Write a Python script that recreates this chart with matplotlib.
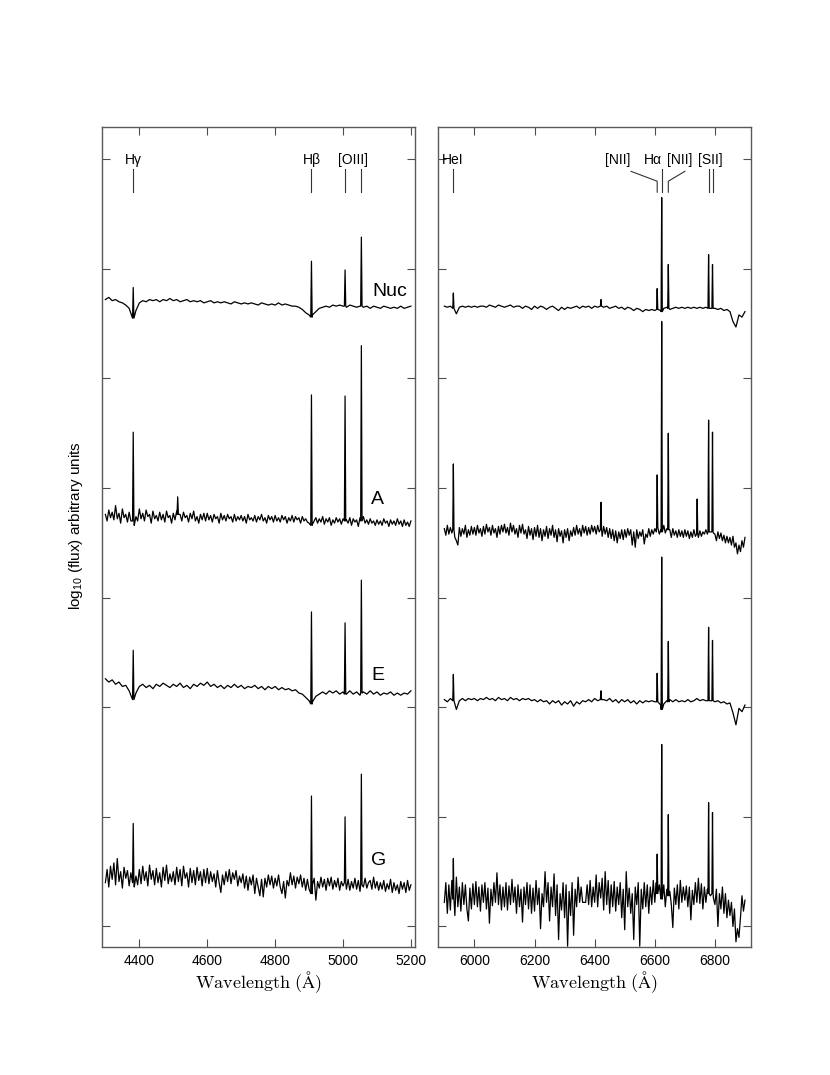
import numpy as np
import matplotlib.pyplot as plt

plt.rcParams['font.family'] = ['Liberation Sans', 'DejaVu Sans']
plt.rcParams['mathtext.fontset'] = 'custom'
plt.rcParams['mathtext.rm'] = 'Liberation Sans'
plt.rcParams['mathtext.it'] = 'Liberation Sans:italic'

# wavelength sampling of the two spectral windows (Angstrom)
blue_wave = np.arange(4300, 5201, 10)
red_wave = np.arange(5900, 6901, 10)
blue_wave_fine = np.arange(4300, 5201, 5)
red_wave_fine = np.arange(5900, 6901, 5)

# log10 flux (arbitrary units, offset per region)
nuc_blue = [5.72, 5.74, 5.71, 5.72, 5.70, 5.69, 5.67, 5.64, 5.60, 5.62,
            5.69, 5.71, 5.70, 5.72, 5.71, 5.72, 5.70, 5.72, 5.71, 5.73,
            5.71, 5.72, 5.70, 5.71, 5.72, 5.70, 5.71, 5.70, 5.71, 5.69,
            5.70, 5.71, 5.69, 5.70, 5.69, 5.70, 5.69, 5.68, 5.70, 5.69,
            5.68, 5.69, 5.68, 5.69, 5.68, 5.67, 5.69, 5.68, 5.67, 5.68,
            5.67, 5.69, 5.67, 5.68, 5.67, 5.66, 5.66, 5.65, 5.63, 5.60,
            5.58, 5.58, 5.61, 5.64, 5.65, 5.66, 5.65, 5.67, 5.66, 5.67,
            5.66, 5.65, 5.67, 5.66, 5.65, 5.66, 5.65, 5.66, 5.64, 5.66,
            5.65, 5.64, 5.66, 5.65, 5.64, 5.65, 5.64, 5.66, 5.64, 5.65, 5.66]
e_blue = [2.26, 2.23, 2.25, 2.21, 2.23, 2.19, 2.20, 2.15, 2.12, 2.13,
          2.19, 2.21, 2.18, 2.20, 2.17, 2.21, 2.19, 2.22, 2.20, 2.18,
          2.21, 2.19, 2.22, 2.18, 2.20, 2.17, 2.21, 2.19, 2.22, 2.20,
          2.23, 2.19, 2.21, 2.18, 2.20, 2.17, 2.20, 2.18, 2.21, 2.18,
          2.20, 2.17, 2.19, 2.18, 2.20, 2.17, 2.19, 2.16, 2.19, 2.17,
          2.19, 2.16, 2.18, 2.16, 2.17, 2.15, 2.16, 2.13, 2.12, 2.09,
          2.06, 2.05, 2.10, 2.12, 2.14, 2.12, 2.15, 2.13, 2.15, 2.12,
          2.14, 2.12, 2.15, 2.12, 2.14, 2.11, 2.14, 2.12, 2.15, 2.12,
          2.14, 2.11, 2.13, 2.12, 2.14, 2.11, 2.13, 2.11, 2.13, 2.12, 2.15]
# noisier regions, sampled every 5 A
a_blue = [3.76, 3.70, 3.80, 3.73, 3.78, 3.71, 3.84, 3.72, 3.77, 3.68, 3.81, 3.73, 3.76, 3.69, 3.78, 3.70, 3.75, 3.66, 3.74, 3.70,
          3.81, 3.72, 3.77, 3.70, 3.80, 3.74, 3.76, 3.68, 3.79, 3.72, 3.75, 3.70, 3.78, 3.71, 3.76, 3.69, 3.79, 3.73, 3.75, 3.68,
          3.77, 3.71, 3.79, 3.72, 3.76, 3.70, 3.78, 3.73, 3.75, 3.69, 3.77, 3.72, 3.79, 3.70, 3.74, 3.68, 3.76, 3.71, 3.77, 3.70,
          3.77, 3.71, 3.75, 3.69, 3.76, 3.72, 3.74, 3.68, 3.77, 3.71, 3.75, 3.70, 3.76, 3.72, 3.74, 3.69, 3.76, 3.70, 3.74, 3.71,
          3.75, 3.70, 3.74, 3.68, 3.76, 3.71, 3.73, 3.70, 3.75, 3.69, 3.74, 3.71, 3.76, 3.70, 3.73, 3.68, 3.75, 3.71, 3.74, 3.69,
          3.75, 3.70, 3.73, 3.69, 3.75, 3.71, 3.74, 3.68, 3.73, 3.70, 3.75, 3.69, 3.74, 3.71, 3.73, 3.68, 3.74, 3.70, 3.72, 3.69,
          3.68, 3.64, 3.67, 3.70, 3.73, 3.68, 3.72, 3.69, 3.74, 3.67, 3.72, 3.69, 3.73, 3.66, 3.71, 3.68, 3.73, 3.69, 3.72, 3.67,
          3.72, 3.67, 3.71, 3.68, 3.73, 3.66, 3.72, 3.69, 3.71, 3.65, 3.73, 3.69, 3.74, 3.68, 3.71, 3.67, 3.72, 3.68, 3.70, 3.66,
          3.71, 3.67, 3.70, 3.66, 3.72, 3.68, 3.70, 3.65, 3.71, 3.67, 3.70, 3.66, 3.72, 3.67, 3.70, 3.65, 3.71, 3.66, 3.69, 3.65,
          3.70]
g_blue = [0.40, 0.52, 0.36, 0.55, 0.43, 0.58, 0.38, 0.62, 0.41, 0.50, 0.35, 0.54, 0.44, 0.51, 0.37, 0.49, 0.42, 0.36, 0.46, 0.38,
          0.52, 0.39, 0.55, 0.42, 0.50, 0.37, 0.56, 0.43, 0.51, 0.38, 0.53, 0.40, 0.49, 0.36, 0.54, 0.42, 0.56, 0.39, 0.48, 0.41,
          0.50, 0.38, 0.54, 0.41, 0.52, 0.37, 0.55, 0.44, 0.49, 0.36, 0.53, 0.40, 0.51, 0.38, 0.54, 0.42, 0.50, 0.37, 0.52, 0.40,
          0.53, 0.39, 0.50, 0.41, 0.48, 0.36, 0.51, 0.40, 0.31, 0.47, 0.38, 0.50, 0.41, 0.52, 0.39, 0.49, 0.43, 0.51, 0.37, 0.46,
          0.40, 0.48, 0.35, 0.46, 0.33, 0.45, 0.38, 0.47, 0.30, 0.44, 0.36, 0.28, 0.43, 0.27, 0.44, 0.36, 0.47, 0.38, 0.46, 0.35,
          0.44, 0.37, 0.47, 0.36, 0.30, 0.41, 0.26, 0.42, 0.37, 0.49, 0.38, 0.46, 0.35, 0.45, 0.39, 0.47, 0.36, 0.44, 0.33, 0.43,
          0.34, 0.30, 0.38, 0.44, 0.24, 0.41, 0.35, 0.45, 0.36, 0.43, 0.33, 0.44, 0.37, 0.45, 0.34, 0.42, 0.36, 0.44, 0.33, 0.41,
          0.37, 0.40, 0.34, 0.43, 0.33, 0.41, 0.35, 0.44, 0.34, 0.42, 0.32, 0.43, 0.36, 0.44, 0.35, 0.40, 0.42, 0.34, 0.45, 0.35,
          0.41, 0.33, 0.40, 0.34, 0.42, 0.32, 0.39, 0.34, 0.43, 0.31, 0.40, 0.33, 0.38, 0.30, 0.41, 0.34, 0.40, 0.31, 0.42, 0.33,
          0.38]

nuc_red = [5.66, 5.65, 5.66, 5.66, 5.59, 5.65, 5.66, 5.65, 5.66, 5.65,
           5.66, 5.65, 5.66, 5.66, 5.65, 5.67, 5.66, 5.65, 5.67, 5.66,
           5.65, 5.66, 5.67, 5.65, 5.66, 5.66, 5.64, 5.66, 5.65, 5.63,
           5.66, 5.64, 5.66, 5.65, 5.63, 5.65, 5.66, 5.64, 5.62, 5.65,
           5.63, 5.65, 5.64, 5.65, 5.66, 5.64, 5.66, 5.65, 5.66, 5.64,
           5.66, 5.65, 5.68, 5.65, 5.66, 5.64, 5.65, 5.66, 5.64, 5.65,
           5.63, 5.65, 5.64, 5.62, 5.64, 5.63, 5.61, 5.63, 5.62, 5.63,
           5.62, 5.62, 5.62, 5.64, 5.65, 5.63, 5.64, 5.65, 5.64, 5.65,
           5.64, 5.65, 5.64, 5.65, 5.64, 5.65, 5.64, 5.65, 5.64, 5.64,
           5.64, 5.63, 5.64, 5.62, 5.63, 5.61, 5.52, 5.47, 5.58, 5.56, 5.61]
e_red = [2.07, 2.05, 2.08, 2.06, 1.98, 2.06, 2.08, 2.06, 2.08, 2.07,
         2.08, 2.06, 2.08, 2.07, 2.09, 2.07, 2.08, 2.06, 2.09, 2.07,
         2.08, 2.06, 2.09, 2.07, 2.08, 2.06, 2.08, 2.07, 2.08, 2.06,
         2.07, 2.05, 2.07, 2.05, 2.06, 2.03, 2.06, 2.04, 2.06, 2.02,
         2.05, 2.03, 2.06, 2.01, 2.05, 2.03, 2.06, 2.05, 2.07, 2.05,
         2.08, 2.06, 2.09, 2.07, 2.06, 2.08, 2.05, 2.07, 2.04, 2.07,
         2.05, 2.07, 2.04, 2.06, 2.03, 2.06, 2.04, 2.06, 2.05, 2.06,
         2.05, 2.04, 2.02, 2.03, 2.06, 2.07, 2.05, 2.07, 2.05, 2.06,
         2.05, 2.07, 2.05, 2.06, 2.08, 2.06, 2.07, 2.06, 2.06, 2.06,
         2.05, 2.06, 2.04, 2.05, 2.03, 2.04, 1.95, 1.84, 1.99, 1.96, 2.02]
a_red = [3.63, 3.57, 3.66, 3.58, 3.64, 3.59, 3.62, 3.55, 3.52, 3.48, 3.64, 3.56, 3.63, 3.58, 3.66, 3.55, 3.62, 3.57, 3.65, 3.58,
         3.64, 3.57, 3.66, 3.59, 3.63, 3.56, 3.65, 3.58, 3.67, 3.60, 3.64, 3.57, 3.66, 3.59, 3.63, 3.55, 3.65, 3.58, 3.66, 3.60,
         3.67, 3.59, 3.64, 3.57, 3.68, 3.60, 3.66, 3.58, 3.63, 3.55, 3.66, 3.59, 3.67, 3.58, 3.62, 3.54, 3.65, 3.57, 3.63, 3.53,
         3.64, 3.56, 3.66, 3.55, 3.63, 3.52, 3.62, 3.56, 3.65, 3.54, 3.63, 3.57, 3.66, 3.55, 3.62, 3.51, 3.63, 3.56, 3.61, 3.50,
         3.62, 3.55, 3.63, 3.52, 3.61, 3.56, 3.64, 3.57, 3.66, 3.58, 3.63, 3.56, 3.66, 3.59, 3.65, 3.57, 3.64, 3.58, 3.66, 3.60,
         3.65, 3.58, 3.66, 3.60, 3.63, 3.56, 3.65, 3.58, 3.64, 3.55, 3.63, 3.54, 3.62, 3.52, 3.61, 3.50, 3.60, 3.54, 3.62, 3.53,
         3.62, 3.55, 3.63, 3.57, 3.62, 3.48, 3.60, 3.46, 3.62, 3.54, 3.60, 3.56, 3.62, 3.49, 3.58, 3.55, 3.63, 3.56, 3.62, 3.58,
         3.63, 3.60, 3.64, 3.58, 3.62, 3.60, 3.66, 3.59, 3.63, 3.56, 3.62, 3.55, 3.63, 3.57, 3.61, 3.55, 3.62, 3.56, 3.61, 3.55,
         3.62, 3.56, 3.61, 3.54, 3.60, 3.55, 3.62, 3.56, 3.62, 3.55, 3.61, 3.56, 3.60, 3.58, 3.62, 3.58, 3.61, 3.60, 3.61, 3.59,
         3.58, 3.52, 3.60, 3.54, 3.59, 3.52, 3.57, 3.50, 3.56, 3.50, 3.55, 3.48, 3.56, 3.46, 3.50, 3.40, 3.48, 3.42, 3.52, 3.46,
         3.55]
g_red = [0.22, 0.40, 0.12, 0.38, 0.15, 0.42, 0.28, 0.10, 0.45, 0.18, 0.36, 0.14, 0.40, 0.20, 0.38, 0.16, 0.05, 0.35, 0.16, 0.39,
         0.20, 0.41, 0.18, 0.36, 0.14, 0.38, 0.22, 0.40, 0.16, 0.35, 0.03, 0.34, 0.19, 0.40, 0.22, 0.49, 0.20, 0.38, 0.15, 0.36,
         0.18, 0.40, 0.15, 0.37, 0.20, 0.43, 0.22, 0.36, 0.12, 0.38, 0.18, 0.34, 0.04, 0.36, 0.20, 0.40, 0.16, 0.38, 0.12, 0.35,
         0.14, 0.42, 0.20, 0.35, -0.02, 0.30, 0.18, 0.50, 0.22, 0.40, 0.05, 0.36, 0.18, 0.48, 0.10, 0.38, -0.12, 0.30, 0.15, 0.40,
         0.08, 0.38, -0.18, 0.32, 0.10, 0.40, -0.08, 0.34, 0.18, 0.45, 0.22, 0.36, 0.22, 0.22, 0.22, 0.38, 0.20, 0.42, 0.18, 0.36,
         0.22, 0.47, 0.18, 0.40, 0.26, 0.44, 0.15, 0.50, 0.20, 0.42, 0.12, 0.38, 0.18, 0.41, 0.14, 0.36, 0.20, 0.40, 0.08, 0.34,
         -0.03, 0.50, 0.18, 0.35, 0.12, 0.30, -0.12, 0.36, 0.20, 0.40, -0.18, 0.34, 0.16, 0.40, 0.18, 0.38, 0.12, 0.36, 0.20, 0.42,
         0.22, 0.40, 0.25, 0.38, 0.26, 0.22, 0.38, 0.18, 0.34, 0.12, 0.32, 0.20, -0.01, 0.35, 0.20, 0.38, 0.16, 0.42, 0.22, 0.36,
         0.24, 0.37, 0.18, 0.36, 0.06, 0.33, 0.20, 0.40, 0.22, 0.44, 0.21, 0.39, 0.16, 0.36, 0.22, 0.34, 0.30, 0.28, 0.30, 0.26,
         0.20, 0.34, 0.00, 0.30, 0.16, 0.36, 0.12, 0.30, 0.08, 0.24, 0.10, 0.22, 0.00, 0.16, -0.14, -0.02, -0.10, 0.08, 0.28, 0.14,
         0.24]

# narrow emission lines: (observed wavelength, peak, local base)
nuc_blue_lines = [(4382, 5.83, 5.55), (4907, 6.07, 5.56), (5006, 5.99, 5.66), (5054, 6.29, 5.66)]
a_blue_lines = [(4382, 4.51, 3.70), (4513, 3.92, 3.76), (4907, 4.85, 3.66),
                (5006, 4.84, 3.70), (5054, 5.30, 3.70)]
e_blue_lines = [(4382, 2.52, 2.07), (4907, 2.87, 2.03), (5006, 2.77, 2.12), (5054, 3.16, 2.13)]
g_blue_lines = [(4382, 0.94, 0.40), (4907, 1.19, 0.30), (5006, 1.00, 0.40), (5054, 1.39, 0.38)]
nuc_red_lines = [(5930, 5.78, 5.64), (6421, 5.72, 5.66), (6608, 5.82, 5.63), (6623, 6.65, 5.61),
                 (6645, 6.04, 5.64), (6779, 6.13, 5.64), (6792, 6.04, 5.64)]
a_red_lines = [(5930, 4.22, 3.62), (6421, 3.87, 3.62), (6608, 4.12, 3.64), (6623, 5.52, 3.60),
               (6645, 4.50, 3.62), (6741, 3.90, 3.58), (6779, 4.62, 3.60), (6792, 4.51, 3.60)]
e_red_lines = [(5930, 2.30, 2.06), (6421, 2.15, 2.07), (6608, 2.31, 2.05), (6623, 3.37, 1.98),
               (6645, 2.60, 2.05), (6779, 2.73, 2.06), (6792, 2.61, 2.06)]
g_red_lines = [(5930, 0.62, 0.25), (6608, 0.66, 0.30), (6623, 1.66, 0.25),
               (6645, 1.02, 0.28), (6779, 1.13, 0.30), (6792, 1.04, 0.30)]

region_names = ['Nuc', 'A', 'E', 'G']
name_pos = [(5137, 5.79), (5101, 3.90), (5103, 2.29), (5104, 0.60)]


def spectrum(wave, flux, lines):
    assert len(wave) == len(flux)
    keep = [i for i, w in enumerate(wave) if all(abs(w - c) > 2.5 for c, _, _ in lines)]
    x = [wave[i] for i in keep]
    y = [flux[i] for i in keep]
    for c, peak, base in lines:
        x += [c - 2, c, c + 2]
        y += [base, peak, base]
    order = np.argsort(x, kind='stable')
    return np.array(x)[order], np.array(y)[order]


fig = plt.figure(figsize=(8.3, 10.75), dpi=100)
ax1 = fig.add_axes([0.1233, 0.1188, 0.3767, 0.7631])
ax2 = fig.add_axes([0.5281, 0.1188, 0.3767, 0.7631])

blue = [(blue_wave, nuc_blue, nuc_blue_lines), (blue_wave_fine, a_blue, a_blue_lines),
        (blue_wave, e_blue, e_blue_lines), (blue_wave_fine, g_blue, g_blue_lines)]
red = [(red_wave, nuc_red, nuc_red_lines), (red_wave_fine, a_red, a_red_lines),
       (red_wave, e_red, e_red_lines), (red_wave_fine, g_red, g_red_lines)]
for wave, flux, lines in blue:
    x, y = spectrum(wave, flux, lines)
    ax1.plot(x, y, color='k', lw=0.9)
for wave, flux, lines in red:
    x, y = spectrum(wave, flux, lines)
    ax2.plot(x, y, color='k', lw=0.9)

for name, (px, py) in zip(region_names, name_pos):
    ax1.text(px, py, name, fontsize=14, ha='center', va='center')

# line identifications
lc = '0.2'
for lam, lab in [(4382, 'H\u03b3'), (4907, 'H\u03b2')]:
    ax1.text(lam, 6.99, lab, fontsize=10, ha='center', va='center')
    ax1.plot([lam, lam], [6.70, 6.91], color=lc, lw=0.8)
ax1.text(5030, 6.99, '[OIII]', fontsize=10, ha='center', va='center')
for lam in (5006, 5054):
    ax1.plot([lam, lam], [6.70, 6.91], color=lc, lw=0.8)

ax2.text(5927, 6.99, 'HeI', fontsize=10, ha='center', va='center')
ax2.plot([5930, 5930], [6.70, 6.91], color=lc, lw=0.8)
ax2.text(6478, 6.99, '[NII]', fontsize=10, ha='center', va='center')
ax2.text(6593, 6.99, 'H\u03b1', fontsize=10, ha='center', va='center')
ax2.text(6684, 6.99, '[NII]', fontsize=10, ha='center', va='center')
ax2.text(6786, 6.99, '[SII]', fontsize=10, ha='center', va='center')
ax2.plot([6521, 6608, 6608], [6.89, 6.80, 6.70], color=lc, lw=0.8)
ax2.plot([6700, 6645, 6645], [6.89, 6.80, 6.70], color=lc, lw=0.8)
for lam in (6623, 6779, 6792):
    ax2.plot([lam, lam], [6.70, 6.91], color=lc, lw=0.8)

ax1.set_xlim(4291, 5212)
ax2.set_xlim(5880, 6920)
ax1.set_xticks([4400, 4600, 4800, 5000, 5200])
ax2.set_xticks([6000, 6200, 6400, 6600, 6800])
for ax in (ax1, ax2):
    ax.set_ylim(-0.19, 7.295)
    ax.set_yticks(range(8))
    ax.tick_params(direction='in', top=True, right=True, length=6, width=0.8,
                   labelsize=10, labelleft=False, pad=5, color='0.3')
    for s in ax.spines.values():
        s.set_color('0.35')
        s.set_linewidth(1.0)
    ax.set_xlabel(r'$\mathrm{Wavelength\ (\AA)}$', fontsize=13, math_fontfamily='cm', labelpad=1)

fig.text(0.0916, 0.511, 'log$_{10}$ (flux) arbitrary units', rotation=90,
         ha='center', va='center', fontsize=11)

fig.savefig('out.png', dpi=100)
